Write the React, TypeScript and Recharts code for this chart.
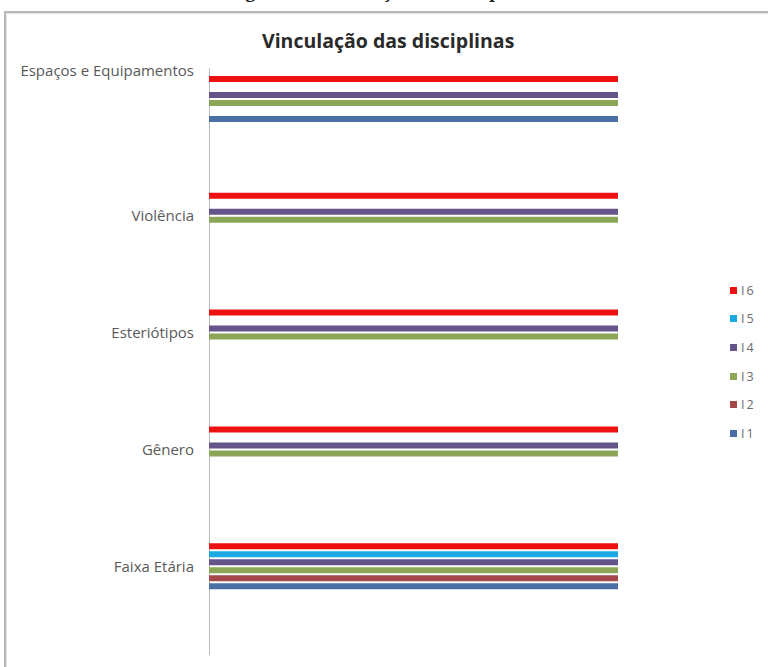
import React from 'react';
import { BarChart, Bar, XAxis, YAxis, Legend } from 'recharts';

const categories = ['Espaços e Equipamentos', 'Violência', 'Esteriótipos', 'Gênero', 'Faixa Etária'];

// one value per category, 1 = disciplina vinculada
const i1 = [1, 0, 0, 0, 1];
const i2 = [0, 0, 0, 0, 1];
const i3 = [1, 1, 1, 1, 1];
const i4 = [1, 1, 1, 1, 1];
const i5 = [0, 0, 0, 0, 1];
const i6 = [1, 1, 1, 1, 1];

// drawn top to bottom inside each category
const series = [
  { key: 'I6', values: i6, color: '#ee1111' },
  { key: 'I5', values: i5, color: '#1aa9e2' },
  { key: 'I4', values: i4, color: '#64548a' },
  { key: 'I3', values: i3, color: '#8aa656' },
  { key: 'I2', values: i2, color: '#a4484a' },
  { key: 'I1', values: i1, color: '#4a6fa2' },
];

const data = categories.map((name, i) => {
  const row: { [key: string]: any } = { name };
  series.forEach((s) => {
    row[s.key] = s.values[i];
  });
  return row;
});

const CategoryTick = ({ x, y, payload }: any) => {
  // the first label sits higher than its bars in the original figure
  const shift = payload.value === categories[0] ? -28 : 0;
  return (
    <text
      x={x}
      y={y + shift}
      dy={5}
      textAnchor="end"
      fill="#595959"
      fontSize={15}
      fontFamily="'Open Sans', sans-serif"
    >
      {payload.value}
    </text>
  );
};

const LegendList = () => (
  <div style={{ fontFamily: "'Open Sans', sans-serif", fontSize: 12.5, color: '#6b6b6b', letterSpacing: 2 }}>
    {series.map((s) => (
      <div key={s.key} style={{ display: 'flex', alignItems: 'center', height: 28.6 }}>
        <span style={{ width: 7, height: 7, background: s.color, marginRight: 4 }} />
        <span>{s.key}</span>
      </div>
    ))}
  </div>
);

export default function App() {
  return (
    <div
      style={{
        position: 'absolute',
        left: 0,
        top: 0,
        width: 768,
        height: 667,
        overflow: 'hidden',
        background: '#fff',
      }}
    >
      <div
        style={{
          position: 'absolute',
          left: 0,
          width: 768,
          top: -21,
          textAlign: 'center',
          fontFamily: "'Liberation Serif', serif",
          fontWeight: 'bold',
          fontSize: 20,
          color: '#222',
          height: 30,
          overflow: 'hidden',
        }}
      >
        Figura 1 - Vinculação das disciplinas
      </div>
      <div
        style={{
          position: 'absolute',
          left: 4,
          top: 11,
          width: 800,
          height: 700,
          borderTop: '2px solid #b8b8b8',
          borderLeft: '2px solid #b8b8b8',
          boxShadow: 'inset 1px 1px 0 #e4e4e4',
          background: '#fff',
        }}
      />
      <div
        style={{
          position: 'absolute',
          left: 262,
          top: 27,
          fontFamily: "'Open Sans', sans-serif",
          fontWeight: 'bold',
          fontSize: 19.5,
          color: '#2a2a2a',
        }}
      >
        Vinculação das disciplinas
      </div>
      <div
        style={{
          position: 'absolute',
          left: 209,
          top: 68,
          width: 1,
          height: 587,
          background: '#bdbdbd',
        }}
      />
      <div style={{ position: 'absolute', left: 0, top: 0 }}>
        <BarChart
          width={768}
          height={667}
          data={data}
          layout="vertical"
          margin={{ top: 41, bottom: 42, left: 19, right: 150 }}
          barSize={6}
          barGap={2}
        >
          <XAxis type="number" domain={[0, 1]} hide />
          <YAxis
            type="category"
            dataKey="name"
            width={190}
            axisLine={false}
            tickLine={false}
            tickSize={0}
            tickMargin={15}
            tick={<CategoryTick />}
            interval={0}
          />
          <Legend
            layout="horizontal"
            verticalAlign="middle"
            content={<LegendList />}
            wrapperStyle={{ left: 730, top: 276, width: 40 }}
          />
          {series.map((s) => (
            <Bar key={s.key} dataKey={s.key} name={s.key} fill={s.color} isAnimationActive={false} />
          ))}
        </BarChart>
      </div>
    </div>
  );
}
